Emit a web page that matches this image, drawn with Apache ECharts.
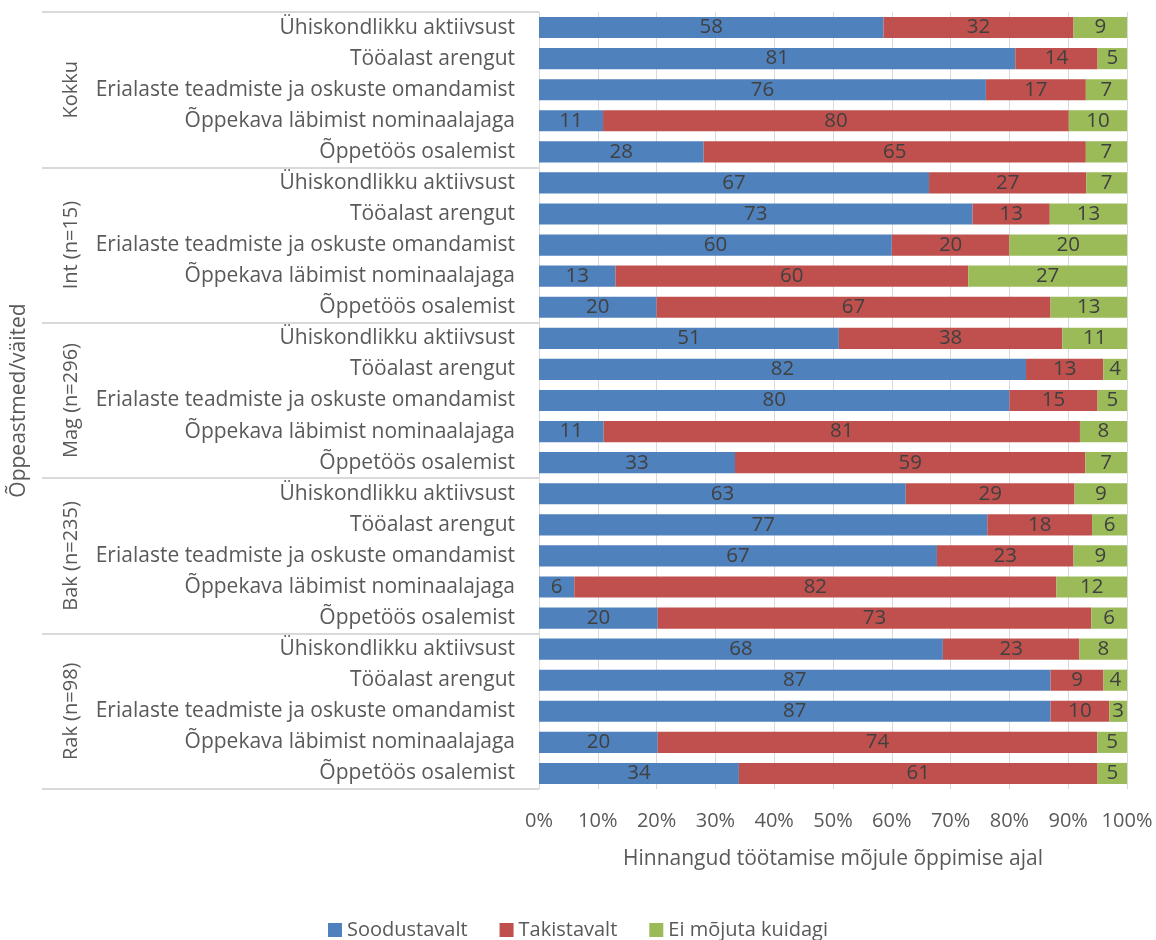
<!DOCTYPE html>
<html>
<head>
<meta charset="utf-8">
<script src="https://cdn.jsdelivr.net/npm/echarts@6/dist/echarts.min.js"></script>
<style>html,body{margin:0;padding:0;background:#fff}#c{width:1156px;height:940px}</style>
</head>
<body>
<div id="c"></div>
<script>
var groups = ['Kokku', 'Int (n=15)', 'Mag (n=296)', 'Bak (n=235)', 'Rak (n=98)'];
var items = ['Ühiskondlikku aktiivsust', 'Tööalast arengut', 'Erialaste teadmiste ja oskuste omandamist', 'Õppekava läbimist nominaalajaga', 'Õppetöös osalemist'];
var seriesNames = ['Soodustavalt', 'Takistavalt', 'Ei mõjuta kuidagi'];
// rows: group by group, item by item (top to bottom)
var soodustavalt = [58, 81, 76, 11, 28,  67, 73, 60, 13, 20,  51, 82, 80, 11, 33,  63, 77, 67, 6, 20,  68, 87, 87, 20, 34];
var takistavalt  = [32, 14, 17, 80, 65,  27, 13, 20, 60, 67,  38, 13, 15, 81, 59,  29, 18, 23, 82, 73,  23, 9, 10, 74, 61];
var eiMojuta     = [9, 5, 7, 10, 7,      7, 13, 20, 27, 13,   11, 4, 5, 8, 7,      9, 6, 9, 12, 6,      8, 4, 3, 5, 5];
var xTicks = [0, 10, 20, 30, 40, 50, 60, 70, 80, 90, 100];

var FONT = '"Open Sans", "Noto Sans", sans-serif';
var raw = [soodustavalt, takistavalt, eiMojuta];
var cats = [];
groups.forEach(function () { items.forEach(function (it) { cats.push(it); }); });
function pct(k) {
  return raw[k].map(function (v, i) {
    var t = soodustavalt[i] + takistavalt[i] + eiMojuta[i];
    return v / t * 100;
  });
}
var colors = ['#4f81bd', '#c0504d', '#9bbb59'];
var series = seriesNames.map(function (n, k) {
  return {
    name: n, type: 'bar', stack: 'all', yAxisIndex: 0,
    data: pct(k),
    barCategoryGap: '32%',
    itemStyle: { color: colors[k] },
    label: {
      show: true, position: 'inside', color: '#404040', fontSize: 20.5, fontFamily: FONT,
      formatter: function (p) { return raw[p.seriesIndex][p.dataIndex]; }
    }
  };
});

var chart = echarts.init(document.getElementById('c'));
chart.setOption({
  animation: false,
  textStyle: { fontFamily: FONT },
  grid: { left: 539, right: 29, top: 12, bottom: 151, containLabel: false },
  legend: {
    data: seriesNames, top: 915, left: 'center', icon: 'rect', itemWidth: 14, itemHeight: 14, itemGap: 32,
    textStyle: { fontSize: 20, color: '#595959', fontFamily: FONT }
  },
  xAxis: {
    type: 'value', min: xTicks[0], max: xTicks[xTicks.length - 1], interval: 10,
    axisLine: { show: false }, axisTick: { show: false },
    axisLabel: { formatter: '{value}%', fontSize: 20, color: '#595959', margin: 22, fontFamily: FONT },
    splitLine: { lineStyle: { color: '#d9d9d9', width: 1 } },
    name: 'Hinnangud töötamise mõjule õppimise ajal', nameLocation: 'middle', nameGap: 60,
    nameTextStyle: { fontSize: 21, color: '#595959', fontFamily: FONT }
  },
  yAxis: [{
    type: 'category', data: cats, inverse: true,
    axisLine: { show: true, lineStyle: { color: '#d9d9d9' } },
    axisTick: { show: false },
    axisLabel: { fontSize: 21, color: '#595959', margin: 24, fontFamily: FONT }
  }, {
    type: 'category', data: groups, inverse: true, position: 'left',
    axisLine: { show: false },
    axisTick: { show: true, length: 497, lineStyle: { color: '#d9d9d9', width: 2 } },
    axisLabel: { rotate: 90, fontSize: 20, color: '#595959', margin: 458, fontFamily: FONT },
    splitLine: { show: false },
    name: 'Õppeastmed/väited', nameLocation: 'middle', nameGap: 509, nameRotate: 90,
    nameTextStyle: { fontSize: 21, color: '#595959', fontFamily: FONT }
  }],
  series: series
});
</script>
</body>
</html>
